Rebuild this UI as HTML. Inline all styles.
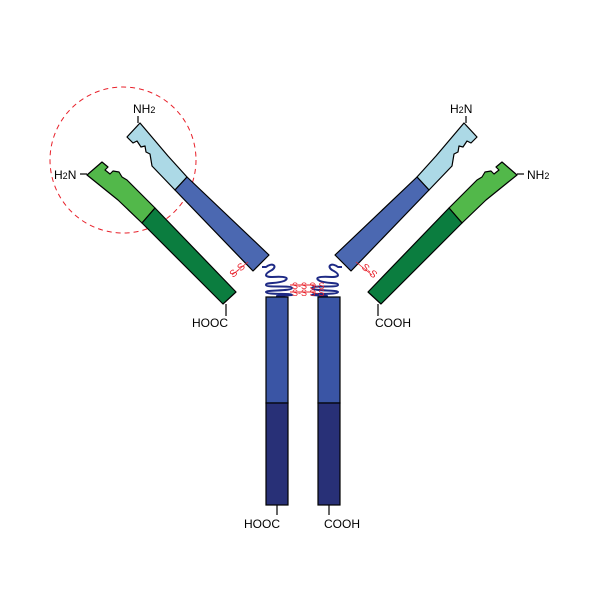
<!DOCTYPE html>
<html><head><style>body{margin:0;background:#fff}svg{display:block}text{font-family:"Liberation Sans",sans-serif}</style></head><body>
<svg width="600" height="600" viewBox="0 0 600 600" xmlns="http://www.w3.org/2000/svg">
<defs>
<g id="arm" stroke="#000" stroke-width="1.2" stroke-linejoin="round">
  <polygon fill="#acd9e6" points="140,123 168,156 187,177 175,190 152,166 150,154 146,152 145,146 141,147 137,141 133,143 127,137"/>
  <polygon fill="#4b68b1" points="187,177 269,255 253,271 175,190"/>
  <polygon fill="#52b84a" points="102,162 108,167 105,170 110,174 113,171 119,172 122,177 127,180 155,208 142,223 118,200 87,175"/>
  <polygon fill="#0b7d3f" points="155,208 236,292 223,304 142,223"/>
  <line x1="138" y1="123" x2="138" y2="116"/>
  <line x1="87" y1="174" x2="80" y2="174"/>
  <line x1="226" y1="304" x2="226" y2="316"/>
  <line x1="232" y1="275" x2="248" y2="262" stroke="#e8202a" stroke-width="0.8"/>
  <path fill="none" stroke="#1e2a85" stroke-width="2" d="M262,267 L266,267 C272,262 278,266 272,270 C264,274 264,277 272,277 C286,276 290,278 284,281 C276,284 266,282 266,285 C266,288 292,285 292,288 C292,291 266,290 266,292 C266,295 292,293 292,295 L277,296 L277,298"/>
</g>
</defs>
<circle cx="123" cy="160" r="73" fill="none" stroke="#e8202a" stroke-width="1" stroke-dasharray="5,4"/>
<use href="#arm"/>
<use href="#arm" transform="translate(604,0) scale(-1,1)"/>
<g font-size="10" fill="#e8202a">
<text transform="translate(233,278) rotate(-40)">S-S</text>
<text transform="translate(361,268) rotate(40)">S-S</text>
</g>
<g stroke="#e8202a" stroke-width="1">
<line x1="290" y1="285" x2="316" y2="285"/>
<line x1="290" y1="292" x2="316" y2="292"/>
</g>
<text x="292" y="289" font-size="9" fill="#e8202a">S-S S-S</text>
<text x="292" y="296" font-size="9" fill="#e8202a">S-S S-S</text>
<g stroke="#000" stroke-width="1.2">
<rect x="266" y="297" width="22" height="106" fill="#3a55a5"/>
<rect x="266" y="403" width="22" height="102" fill="#283077"/>
<rect x="318" y="297" width="22" height="106" fill="#3a55a5"/>
<rect x="318" y="403" width="22" height="102" fill="#283077"/>
<line x1="277" y1="505" x2="277" y2="515"/>
<line x1="329" y1="505" x2="329" y2="515"/>
</g>
<g font-size="12" fill="#000">
<text x="133" y="113">NH<tspan font-size="9">2</tspan></text>
<text x="54" y="179">H<tspan font-size="9">2</tspan>N</text>
<text x="192" y="327">HOOC</text>
<text x="450" y="113">H<tspan font-size="9">2</tspan>N</text>
<text x="527" y="179">NH<tspan font-size="9">2</tspan></text>
<text x="375" y="327">COOH</text>
<text x="244" y="528">HOOC</text>
<text x="324" y="528">COOH</text>
</g>
</svg>
</body></html>
